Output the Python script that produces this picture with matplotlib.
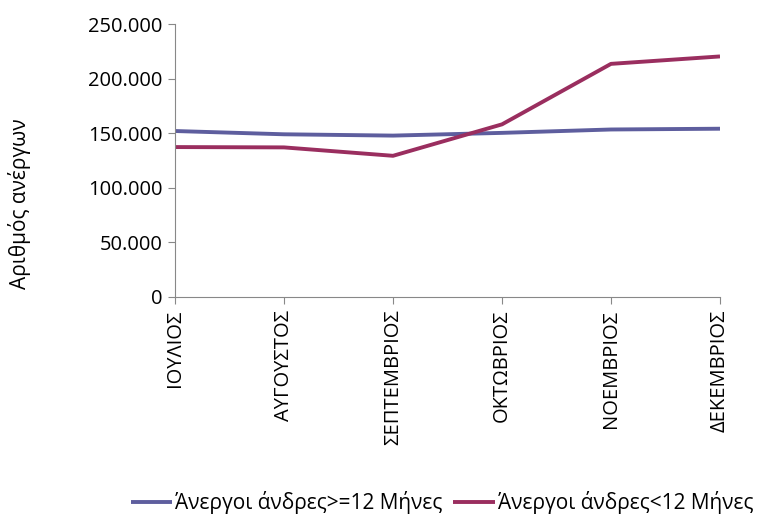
import matplotlib
matplotlib.use("Agg")
import matplotlib.pyplot as plt
from matplotlib.ticker import FuncFormatter

months = ["ΙΟΥΛΙΟΣ", "ΑΥΓΟΥΣΤΟΣ", "ΣΕΠΤΕΜΒΡΙΟΣ", "ΟΚΤΩΒΡΙΟΣ", "ΝΟΕΜΒΡΙΟΣ", "ΔΕΚΕΜΒΡΙΟΣ"]
long_term = [152000, 149000, 147800, 150300, 153400, 154100]
short_term = [137300, 137000, 129300, 158100, 213500, 220300]
series_names = ["Άνεργοι άνδρες>=12 Μήνες", "Άνεργοι άνδρες<12 Μήνες"]
yticks = [0, 50000, 100000, 150000, 200000, 250000]

plt.rcParams['font.family'] = ['Open Sans', 'DejaVu Sans']

fig = plt.figure(figsize=(7.67, 5.18), dpi=100)
ax = fig.add_axes([175/767, 1-297/518, (720-175)/767, (297-24)/518])

x = list(range(len(months)))
ax.plot(x, long_term, color="#5E5E9E", lw=2.8, label=series_names[0], solid_capstyle='butt')
ax.plot(x, short_term, color="#9A2E5F", lw=2.8, label=series_names[1], solid_capstyle='butt')

ax.set_xlim(0, len(months) - 1)
ax.set_ylim(0, 250000)
ax.set_yticks(yticks)
ax.yaxis.set_major_formatter(FuncFormatter(lambda v, p: "0" if v == 0 else f"{int(v):,}".replace(",", ".")))
ax.set_xticks(x)
ax.set_xticklabels(months, rotation=90, fontsize=14.5)
ax.tick_params(axis='y', labelsize=14.5, length=5, color="#888888", pad=4)
ax.tick_params(axis='x', length=5, color="#888888", pad=4)

for s in ["top", "right"]:
    ax.spines[s].set_visible(False)
for s in ["left", "bottom"]:
    ax.spines[s].set_color("#888888")

fig.text(20/767, 1-204/518, "Αριθμός ανέργων", rotation=90, fontsize=15,
         ha="center", va="center")

fig.legend(loc="center", bbox_to_anchor=(442/767, 1-503/518), ncol=2, frameon=False,
           fontsize=15, handlelength=2.0, handletextpad=0.15, columnspacing=0.5)

fig.savefig("out.png", dpi=100)
